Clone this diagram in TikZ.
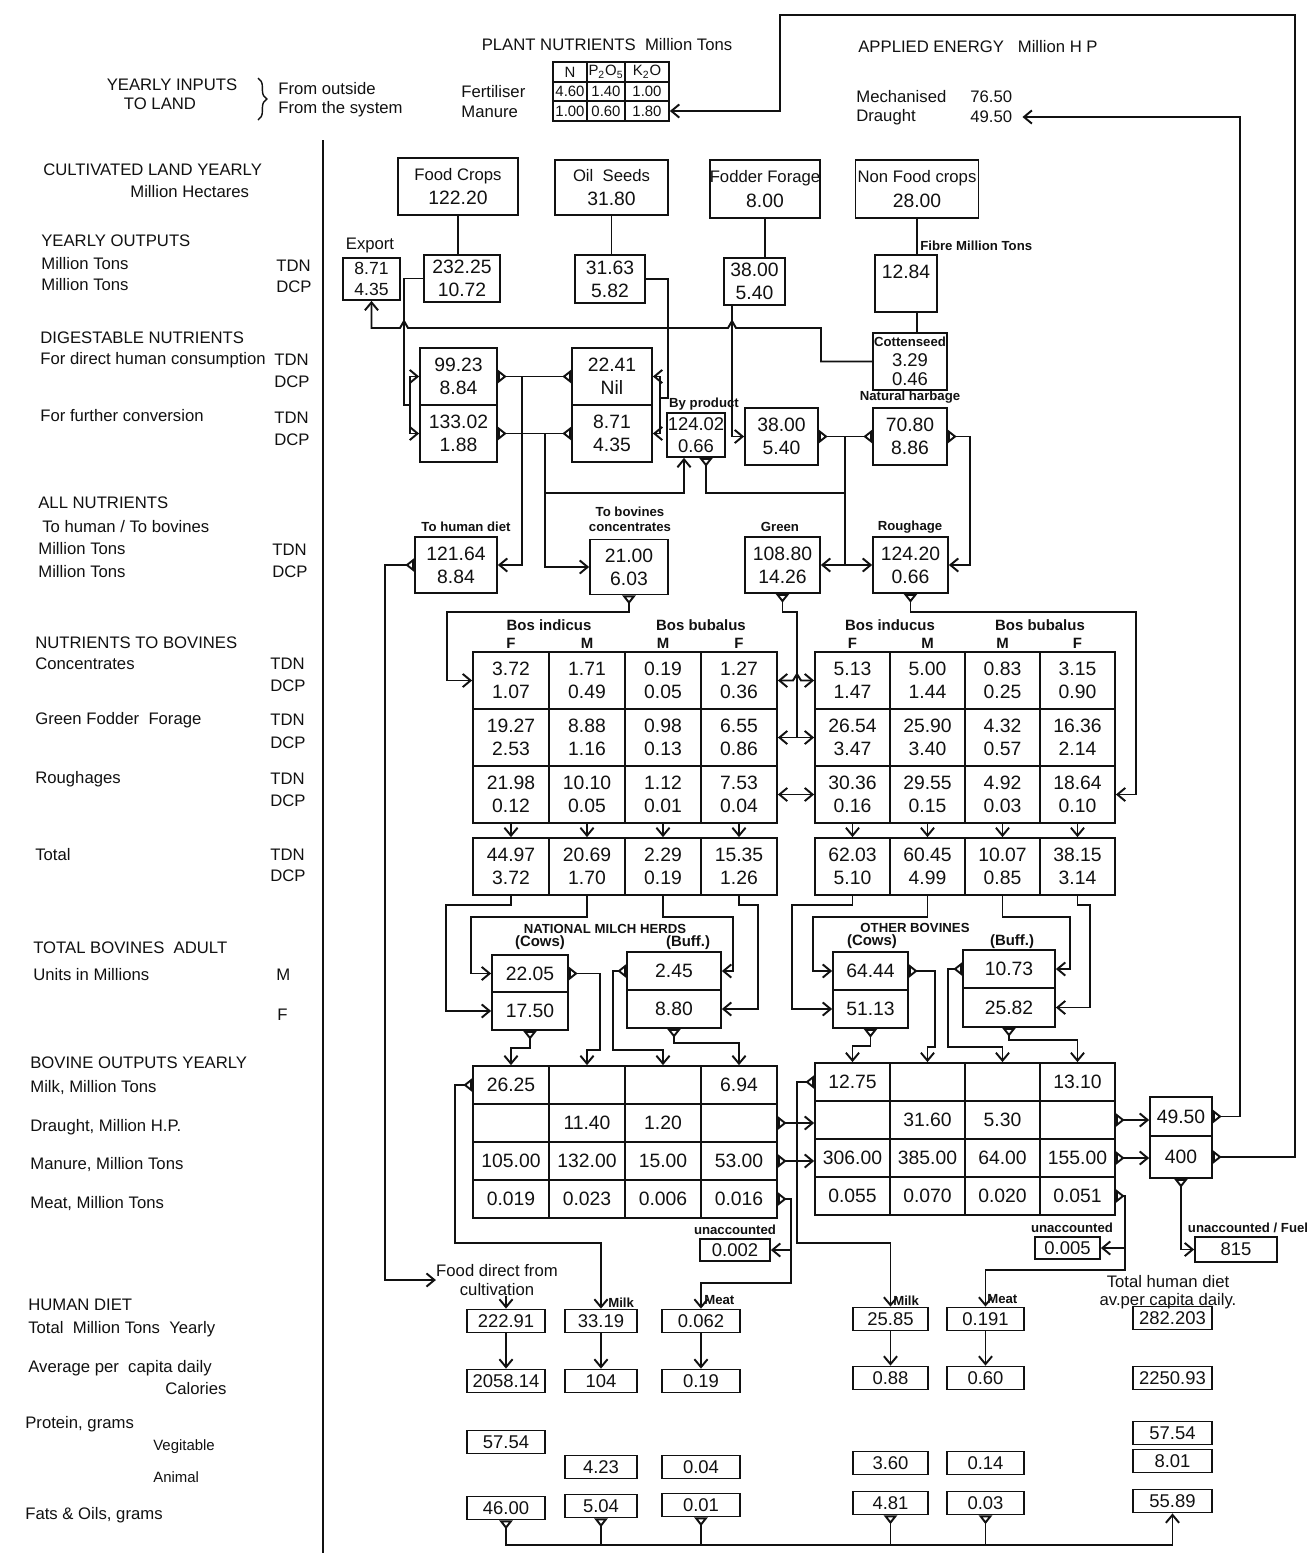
\documentclass[tikz,border=0pt]{standalone}
\usepackage{fontspec}
\setmainfont{Liberation Sans}
\usetikzlibrary{arrows.meta,positioning,calc,decorations.pathreplacing}
\definecolor{ink}{HTML}{111111}
\tikzset{
  lbl/.style={anchor=west,inner sep=0pt,font=\fontsize{9.5}{10.5}\selectfont,text=ink},
  tag/.style={inner sep=0pt,align=center,font=\fontsize{7.5}{8.5}\selectfont\bfseries,text=ink},
  hdr/.style={inner sep=0pt,font=\fontsize{8.5}{9}\selectfont\bfseries,text=ink},
  wh/.style 2 args={minimum width={#1*0.02cm},minimum height={#2*0.02cm}},
  box/.style={draw=ink,line width=1pt,inner sep=0pt,align=center,text=ink,
              font=\fontsize{11}{13}\selectfont},
  cel/.style={box,wh={#1}{57}},
  ocel/.style={box,wh={#1}{38}},
  diet/.style={box,wh={#1}{23},font=\fontsize{10.5}{12}\selectfont},
  ntab/.style={box,wh={#1}{20},font=\fontsize{8.5}{9}\selectfont},
  link/.style={draw=ink,line width=1.1pt},
  arr/.style={link,-{Straight Barb[length=4.5pt,width=7.5pt]}},
  dbl/.style={link,{Straight Barb[length=4.5pt,width=7.5pt]}-{Straight Barb[length=4.5pt,width=7.5pt]}},
  port/.style={link,{Triangle[open,reversed,length=5pt,width=7.5pt]}-},
  portarr/.style={link,{Triangle[open,reversed,length=5pt,width=7.5pt]}-{Straight Barb[length=4.5pt,width=7.5pt]}},
  twoport/.style={link,{Triangle[open,reversed,length=5pt,width=7.5pt]}-{Triangle[open,reversed,length=5pt,width=7.5pt]}},
}
\begin{document}
\begin{tikzpicture}[x=0.02cm,y=-0.02cm]
  \useasboundingbox (0,0) rectangle (1307,1553);
  \fill[white] (0,0) rectangle (1307,1553);
  \draw[link] (323,140) -- (323,1553);

  % inputs to land
  \node[lbl,anchor=center] (yin) at (172,85) {YEARLY INPUTS};
  \node[lbl,anchor=center] (tld) at (160,104) {TO LAND};
  \draw[link,line width=0.8pt,decorate,decoration={brace,amplitude=5pt}] (258,78) -- (258,120);
  \node[lbl] (fout) at (278,89) {From outside};
  \node[lbl] (fsys) at (278,109) {From the system};
  \node[lbl,anchor=center] (pnt) at (607,45) {PLANT NUTRIENTS~~Million Tons};
  \node[lbl] (fert) at (461,92) {Fertiliser};
  \node[lbl] (manu) at (461,112) {Manure};
  \node[ntab=34] (nN) at (570,72) {N};
  \node[ntab=38] (nP) at (606,72) {P\textsubscript{2}O\textsubscript{5}};
  \node[ntab=44] (nK) at (647,72) {K\textsubscript{2}O};
  \node[ntab=34] (nN1) at (570,91.5) {4.60};
  \node[ntab=38] (nP1) at (606,91.5) {1.40};
  \node[ntab=44] (nK1) at (647,91.5) {1.00};
  \node[ntab=34] (nN2) at (570,111) {1.00};
  \node[ntab=38] (nP2) at (606,111) {0.60};
  \node[ntab=44] (nK2) at (647,111) {1.80};
  \node[lbl,anchor=center] (aen) at (978,47) {APPLIED ENERGY~~~Million H P};
  \node[lbl] (mech) at (856,97) {Mechanised};
  \node[lbl] (mechv) at (970,97) {76.50};
  \node[lbl] (drau) at (856,117) {Draught};
  \node[lbl] (drv) at (970,117) {49.50};

  % row labels
  \node[lbl] (r1) at (43,170) {CULTIVATED LAND YEARLY};
  \node[lbl] (r2) at (130,192) {Million Hectares};
  \node[lbl] (r3) at (41,241) {YEARLY OUTPUTS};
  \node[lbl] (r4) at (41,264) {Million Tons};
  \node[lbl] (r4u) at (276,266) {TDN};
  \node[lbl] (r5) at (41,285) {Million Tons};
  \node[lbl] (r5u) at (276,287) {DCP};
  \node[lbl] (r6) at (40,338) {DIGESTABLE NUTRIENTS};
  \node[lbl] (r7) at (40,360) {For direct human consumption};
  \node[lbl] (r7u) at (274,360) {TDN};
  \node[lbl] (r8u) at (274,382) {DCP};
  \node[lbl] (r9) at (40,416) {For further conversion};
  \node[lbl] (r9u) at (274,418) {TDN};
  \node[lbl] (r10u) at (274,440) {DCP};
  \node[lbl] (r11) at (38,503) {ALL NUTRIENTS};
  \node[lbl] (r12) at (42,527) {To human / To bovines};
  \node[lbl] (r13) at (38,549) {Million Tons};
  \node[lbl] (r13u) at (272,550) {TDN};
  \node[lbl] (r14) at (38,572) {Million Tons};
  \node[lbl] (r14u) at (272,572) {DCP};
  \node[lbl] (r15) at (35,643) {NUTRIENTS TO BOVINES};
  \node[lbl] (r16) at (35,664) {Concentrates};
  \node[lbl] (r16u) at (270,664) {TDN};
  \node[lbl] (r17u) at (270,686) {DCP};
  \node[lbl] (r18) at (35,720) {Green Fodder~~Forage};
  \node[lbl] (r18u) at (270,720) {TDN};
  \node[lbl] (r19u) at (270,743) {DCP};
  \node[lbl] (r20) at (35,779) {Roughages};
  \node[lbl] (r20u) at (270,779) {TDN};
  \node[lbl] (r21u) at (270,801) {DCP};
  \node[lbl] (r22) at (35,855) {Total};
  \node[lbl] (r22u) at (270,855) {TDN};
  \node[lbl] (r23u) at (270,876) {DCP};
  \node[lbl] (r24) at (33,948) {TOTAL BOVINES~~ADULT};
  \node[lbl] (r25) at (33,975) {Units in Millions};
  \node[lbl] (r25u) at (276,975) {M};
  \node[lbl] (r26u) at (277,1015) {F};
  \node[lbl] (r27) at (30,1063) {BOVINE OUTPUTS YEARLY};
  \node[lbl] (r28) at (30,1088) {Milk, Million Tons};
  \node[lbl] (r29) at (30,1127) {Draught, Million H.P.};
  \node[lbl] (r30) at (30,1165) {Manure, Million Tons};
  \node[lbl] (r31) at (30,1204) {Meat, Million Tons};
  \node[lbl] (r32) at (28,1305) {HUMAN DIET};
  \node[lbl] (r33) at (28,1329) {Total~~Million Tons~~Yearly};
  \node[lbl] (r34) at (28,1368) {Average per~~capita daily};
  \node[lbl] (r35) at (165,1389) {Calories};
  \node[lbl] (r36) at (25,1424) {Protein, grams};
  \node[lbl,font=\fontsize{8.5}{10}\selectfont] (r37) at (153,1447) {Vegitable};
  \node[lbl,font=\fontsize{8.5}{10}\selectfont] (r38) at (153,1477) {Animal};
  \node[lbl] (r39) at (25,1515) {Fats \& Oils, grams};

  % cultivated land and yearly outputs
  \node[box,wh={120}{57},font=\fontsize{11}{14}\selectfont] (fc) at (458,186.5) {{\fontsize{9.5}{12}\selectfont Food Crops}\\122.20};
  \node[box,wh={113}{55},font=\fontsize{11}{14}\selectfont] (os) at (611.5,187.5) {{\fontsize{9.5}{12}\selectfont Oil~~Seeds}\\31.80};
  \node[box,wh={110}{58},font=\fontsize{11}{14}\selectfont] (ff) at (765,189) {{\fontsize{9.5}{12}\selectfont Fodder Forage}\\8.00};
  \node[box,wh={123}{58},font=\fontsize{11}{14}\selectfont] (nf) at (917,189) {{\fontsize{9.5}{12}\selectfont Non Food crops}\\28.00};
  \node[lbl,anchor=center] (exl) at (370,245) {Export};
  \node[box,wh={57}{42},font=\fontsize{10}{12}\selectfont] (ex) at (371.5,279) {8.71\\4.35};
  \node[box,wh={76}{47}] (fy) at (462,278.5) {232.25\\10.72};
  \node[box,wh={70}{48}] (oy) at (610,279) {31.63\\5.82};
  \node[box,wh={61}{47}] (ffy) at (754.5,281.5) {38.00\\5.40};
  \node[tag,anchor=west] (fibl) at (920,246) {Fibre Million Tons};
  \node[box,wh={62}{57}] (fib) at (906,283.5) {12.84\\~};
  \node[box,wh={74}{57},font=\fontsize{10.5}{11}\selectfont] (cot) at (910,361.5) {{\fontsize{7.5}{9}\selectfont\bfseries Cottenseed}\\3.29\\0.46};

  % digestable nutrients
  \node[box,wh={77}{57}] (a1) at (458.5,376.5) {99.23\\8.84};
  \node[box,wh={77}{57}] (a2) at (458.5,433.5) {133.02\\1.88};
  \node[box,wh={80}{57}] (b1) at (612,376.5) {22.41\\Nil};
  \node[box,wh={80}{57}] (b2) at (612,433.5) {8.71\\4.35};
  \node[tag] (bpl) at (704,404) {By product};
  \node[box,wh={58}{44},font=\fontsize{10.5}{12.5}\selectfont] (bp) at (696,435) {124.02\\0.66};
  \node[box,wh={73}{57}] (c1) at (781.5,436.5) {38.00\\5.40};
  \node[tag] (d1l) at (910,397) {Natural harbage};
  \node[box,wh={74}{57}] (d1) at (910,436.5) {70.80\\8.86};

  % all nutrients
  \node[tag] (hdl) at (466,527) {To human diet};
  \node[box,wh={82}{56}] (hd) at (456,565) {121.64\\8.84};
  \node[tag] (bcl) at (630,519) {To bovines\\concentrates};
  \node[box,wh={78}{55}] (bc) at (629,567) {21.00\\6.03};
  \node[tag] (grl) at (780,527) {Green};
  \node[box,wh={75}{56}] (gr) at (782.5,565) {108.80\\14.26};
  \node[tag] (rol) at (910,527) {Roughage};
  \node[box,wh={75}{56}] (ro) at (910.5,565) {124.20\\0.66};

  % nutrients to bovines
  \node[hdr] (lbi) at (549,625) {Bos indicus};
  \node[hdr] (lbb) at (701,625) {Bos bubalus};
  \node[hdr] (rbi) at (890,625) {Bos inducus};
  \node[hdr] (rbb) at (1040,625) {Bos bubalus};
  \foreach \c/\s in {1/F,2/M,3/M,4/F} {
    \node[hdr] (lh\c) at ({473+76*\c-38},643) {\s};
    \node[hdr] (rh\c) at ({815+75*\c-37.5},643) {\s};
  }
  \foreach \c/\p/\q in {1/3.72/1.07,2/1.71/0.49,3/0.19/0.05,4/1.27/0.36}
    \node[cel=76] (L1\c) at ({473+76*\c-38},680.5) {\p\\\q};
  \foreach \c/\p/\q in {1/19.27/2.53,2/8.88/1.16,3/0.98/0.13,4/6.55/0.86}
    \node[cel=76] (L2\c) at ({473+76*\c-38},737.5) {\p\\\q};
  \foreach \c/\p/\q in {1/21.98/0.12,2/10.10/0.05,3/1.12/0.01,4/7.53/0.04}
    \node[cel=76] (L3\c) at ({473+76*\c-38},794.5) {\p\\\q};
  \foreach \c/\p/\q in {1/44.97/3.72,2/20.69/1.70,3/2.29/0.19,4/15.35/1.26}
    \node[cel=76] (LT\c) at ({473+76*\c-38},866.5) {\p\\\q};
  \foreach \c/\p/\q in {1/5.13/1.47,2/5.00/1.44,3/0.83/0.25,4/3.15/0.90}
    \node[cel=75] (R1\c) at ({815+75*\c-37.5},680.5) {\p\\\q};
  \foreach \c/\p/\q in {1/26.54/3.47,2/25.90/3.40,3/4.32/0.57,4/16.36/2.14}
    \node[cel=75] (R2\c) at ({815+75*\c-37.5},737.5) {\p\\\q};
  \foreach \c/\p/\q in {1/30.36/0.16,2/29.55/0.15,3/4.92/0.03,4/18.64/0.10}
    \node[cel=75] (R3\c) at ({815+75*\c-37.5},794.5) {\p\\\q};
  \foreach \c/\p/\q in {1/62.03/5.10,2/60.45/4.99,3/10.07/0.85,4/38.15/3.14}
    \node[cel=75] (RT\c) at ({815+75*\c-37.5},866.5) {\p\\\q};

  % bovine herds
  \node[tag] (nmh) at (605,929) {NATIONAL MILCH HERDS};
  \node[hdr] (nmc) at (540,943) {(Cows)};
  \node[hdr] (nmb) at (688,943) {(Buff.)};
  \node[tag] (obv) at (915,928) {OTHER BOVINES};
  \node[hdr] (obc) at (872,942) {(Cows)};
  \node[hdr] (obb) at (1012,942) {(Buff.)};
  \node[box,wh={76}{37}] (mcM) at (530,973.5) {22.05};
  \node[box,wh={76}{38}] (mcF) at (530,1011) {17.50};
  \node[box,wh={94}{38}] (mbM) at (674,971) {2.45};
  \node[box,wh={94}{38}] (mbF) at (674,1009) {8.80};
  \node[box,wh={75}{38}] (ocM) at (870.5,971) {64.44};
  \node[box,wh={75}{38}] (ocF) at (870.5,1009) {51.13};
  \node[box,wh={92}{38}] (obM) at (1009,969) {10.73};
  \node[box,wh={92}{39}] (obF) at (1009,1007.5) {25.82};

  % bovine outputs
  \foreach \c/\p in {1/26.25,2/,3/,4/6.94}
    \node[ocel=76] (LO1\c) at ({473+76*\c-38},1085) {\p};
  \foreach \c/\p in {1/,2/11.40,3/1.20,4/}
    \node[ocel=76] (LO2\c) at ({473+76*\c-38},1123) {\p};
  \foreach \c/\p in {1/105.00,2/132.00,3/15.00,4/53.00}
    \node[ocel=76] (LO3\c) at ({473+76*\c-38},1161) {\p};
  \foreach \c/\p in {1/0.019,2/0.023,3/0.006,4/0.016}
    \node[ocel=76] (LO4\c) at ({473+76*\c-38},1199) {\p};
  \foreach \c/\p in {1/12.75,2/,3/,4/13.10}
    \node[ocel=75] (RO1\c) at ({815+75*\c-37.5},1082) {\p};
  \foreach \c/\p in {1/,2/31.60,3/5.30,4/}
    \node[ocel=75] (RO2\c) at ({815+75*\c-37.5},1120) {\p};
  \foreach \c/\p in {1/306.00,2/385.00,3/64.00,4/155.00}
    \node[ocel=75] (RO3\c) at ({815+75*\c-37.5},1158) {\p};
  \foreach \c/\p in {1/0.055,2/0.070,3/0.020,4/0.051}
    \node[ocel=75] (RO4\c) at ({815+75*\c-37.5},1196) {\p};
  \node[box,wh={62}{39}] (en1) at (1181,1116.5) {49.50};
  \node[box,wh={62}{42}] (en2) at (1181,1157) {400};
  \node[tag] (un1l) at (735,1230) {unaccounted};
  \node[box,wh={70}{22},font=\fontsize{10.5}{12}\selectfont] (un1) at (735,1250) {0.002};
  \node[tag] (un2l) at (1072,1228) {unaccounted};
  \node[box,wh={65}{22},font=\fontsize{10.5}{12}\selectfont] (un2) at (1067.5,1248) {0.005};
  \node[tag] (fuell) at (1248,1228) {unaccounted / Fuel};
  \node[box,wh={82}{25},font=\fontsize{10.5}{12}\selectfont] (fuel) at (1236,1249.5) {815};

  % human diet
  \node[lbl,anchor=center,align=center] (fdl) at (497,1280) {Food direct from\\cultivation};
  \node[lbl,anchor=center,align=center] (thd) at (1168,1292) {Total human diet\\av.per capita daily.};
  \node[tag,anchor=west] (mk1) at (608,1303) {Milk};
  \node[tag,anchor=west] (mt1) at (704,1300) {Meat};
  \node[tag,anchor=west] (mk2) at (893,1301) {Milk};
  \node[tag,anchor=west] (mt2) at (987,1299) {Meat};
  \node[diet=78] (t1) at (506,1321) {222.91};
  \node[diet=72] (t2) at (601,1321) {33.19};
  \node[diet=78] (t3) at (701,1321) {0.062};
  \node[diet=75] (t4) at (890.5,1319) {25.85};
  \node[diet=77] (t5) at (985.5,1319) {0.191};
  \node[diet=79] (t6) at (1172.5,1318) {282.203};
  \node[diet=78] (k1) at (506,1381) {2058.14};
  \node[diet=72] (k2) at (601,1381) {104};
  \node[diet=78] (k3) at (701,1381) {0.19};
  \node[diet=75] (k4) at (890.5,1378) {0.88};
  \node[diet=77] (k5) at (985.5,1378) {0.60};
  \node[diet=79] (k6) at (1172.5,1378) {2250.93};
  \node[diet=78] (v1) at (506,1442) {57.54};
  \node[diet=79] (v6) at (1172.5,1433) {57.54};
  \node[diet=72] (n2) at (601,1467) {4.23};
  \node[diet=78] (n3) at (701,1467) {0.04};
  \node[diet=75] (n4) at (890.5,1463) {3.60};
  \node[diet=77] (n5) at (985.5,1463) {0.14};
  \node[diet=79] (n6) at (1172.5,1461) {8.01};
  \node[diet=78] (g1) at (506,1508) {46.00};
  \node[diet=72] (g2) at (601,1506) {5.04};
  \node[diet=78] (g3) at (701,1505) {0.01};
  \node[diet=75] (g4) at (890.5,1503) {4.81};
  \node[diet=77] (g5) at (985.5,1503) {0.03};
  \node[diet=79] (g6) at (1172.5,1501) {55.89};

  % land to outputs
  \draw[link] (fc.south) -- (fc.south |- fy.north);
  \draw[link] (os.south) -- (os.south |- oy.north);
  \draw[link] (ff.south) -- (ff.south |- ffy.north);
  \draw[link] (nf.south) -- (nf.south |- fib.north);
  \draw[link] (fib.south -| nf.south) -- (nf.south |- cot.north);
  \draw[arr] (cot.west) -| (821,328) -- (736,328) -- (732,321) -- (728,328)
    -- (408,328) -- (404,321) -- (400,328) -- (ex.south |- 0,328) -- (ex.south);
  \draw[link] (fy.west) -| (404,405) -- (410,405);
  \draw[dbl] (a1.west) -| (410,405) |- (a2.west);
  \draw[link] (oy.east) -| (668,398) -- (660,398);
  \draw[dbl] (b1.east) -| (660,398) |- (b2.east);
  \draw[arr] ([xshift=-0.45cm]ffy.south) |- (c1.west);

  % digestable to all nutrients
  \draw[twoport] (a1.east) -- (b1.west);
  \draw[twoport] (a2.east) -- (b2.west);
  \draw[arr] (522,376.5) |- (hd.east);
  \draw[arr] (545,433.5) |- (bc.west);
  \draw[arr] (545,493) -| ([xshift=-0.24cm]bp.south);
  \draw[port] ([xshift=0.2cm]bp.south) |- (845,493);
  \draw[twoport] (c1.east) -- (d1.west);
  \draw[link] (845,436.5) -- (845,565);
  \draw[arr] (845,565) -- (gr.east);
  \draw[arr] (845,565) -- (ro.west);
  \draw[portarr] (d1.east) -| (970,500) |- (ro.east);
  \draw[portarr] (hd.west) -| (385,1280) -- (fdl.west);

  % all nutrients to bovines
  \draw[portarr] (bc.south) |- (447,612) |- (L11.west);
  \draw[port] (gr.south) |- (797,612) -- (797,737.5);
  \draw[arr] (797,737.5) -- (L24.east);
  \draw[arr] (797,737.5) -- (R21.west);
  \draw[dbl] (L14.east) -- (793,680.5) -- (797,674) -- (801,680.5) -- (R11.west);
  \draw[dbl] (L34.east) -- (R31.west);
  \draw[portarr] (ro.south) |- (1136,612) |- (R34.east);
  \foreach \c in {1,...,4} {
    \draw[arr] (L3\c.south) -- (LT\c.north);
    \draw[arr] (R3\c.south) -- (RT\c.north);
  }

  % totals to herds
  \draw[arr] (LT1.south) |- (446,905) |- (mcF.west);
  \draw[arr] (LT2.south) |- (471,917) |- (mcM.west);
  \draw[arr] (LT3.south) |- (733,917) |- (mbM.east);
  \draw[arr] (LT4.south) |- (758,905) |- (mbF.east);
  \draw[arr] (RT1.south) |- (792,905) |- (ocF.west);
  \draw[arr] (RT2.south) |- (813,917) |- (ocM.west);
  \draw[arr] (RT3.south) |- (1070,917) |- (obM.east);
  \draw[arr] (RT4.south) |- (1090,905) |- (obF.east);

  % herds to outputs
  \draw[portarr] (mcF.south) -- ++(0,17) -| (LO11.north);
  \draw[portarr] (mcM.east) -| (600,1050) -| (LO12.north);
  \draw[portarr] (mbM.west) -| (613,1050) -| (LO13.north);
  \draw[portarr] (mbF.south) -- ++(0,14) -| (LO14.north);
  \draw[portarr] (ocF.south) -- ++(0,17) -| (RO11.north);
  \draw[portarr] (ocM.east) -| (935,1047) -| (RO12.north);
  \draw[portarr] (obM.west) -| (948,1047) -| (RO13.north);
  \draw[portarr] (obF.south) -- ++(0,12) -| (RO14.north);

  % outputs onwards
  \draw[portarr] (LO11.west) -| (455,1243) -| (t2.north);
  \draw[portarr] (LO24.east) -- (RO21.west |- LO24.east);
  \draw[portarr] (LO34.east) -- (RO31.west |- LO34.east);
  \draw[portarr] (RO11.west) -| (797,1243) -| (t4.north);
  \draw[portarr] (LO44.east) -| (791,1250) -- (un1.east);
  \draw[arr] (791,1250) -- (791,1283) -| (t3.north);
  \draw[portarr] (RO24.east) -- (RO24.east -| en1.west);
  \draw[portarr] (RO34.east) -- (RO34.east -| en2.west);
  \draw[portarr] (RO44.east) -| (1125,1248) -- (un2.east);
  \draw[arr] (1125,1248) -- (1125,1270) -| (t5.north);
  \draw[portarr] (en2.south) |- (fuel.west);
  \draw[portarr] (en1.east) -| (1240,117) -- ([xshift=0.2cm]drv.east);
  \draw[portarr] (en2.east) -| (1295,15) -| (780,111) -- (nK2.east);

  % human diet
  \draw[arr] (t1.north |- fdl.south) -- (t1.north);
  \foreach \c in {1,...,5}
    \draw[arr] (t\c.south) -- (k\c.north);
  \draw[portarr] (g1.south) |- (1172.5,1545) -- (g6.south);
  \foreach \c in {2,...,5}
    \draw[port] (g\c.south) -- (g\c.south |- 0,1545);
\end{tikzpicture}
\end{document}
